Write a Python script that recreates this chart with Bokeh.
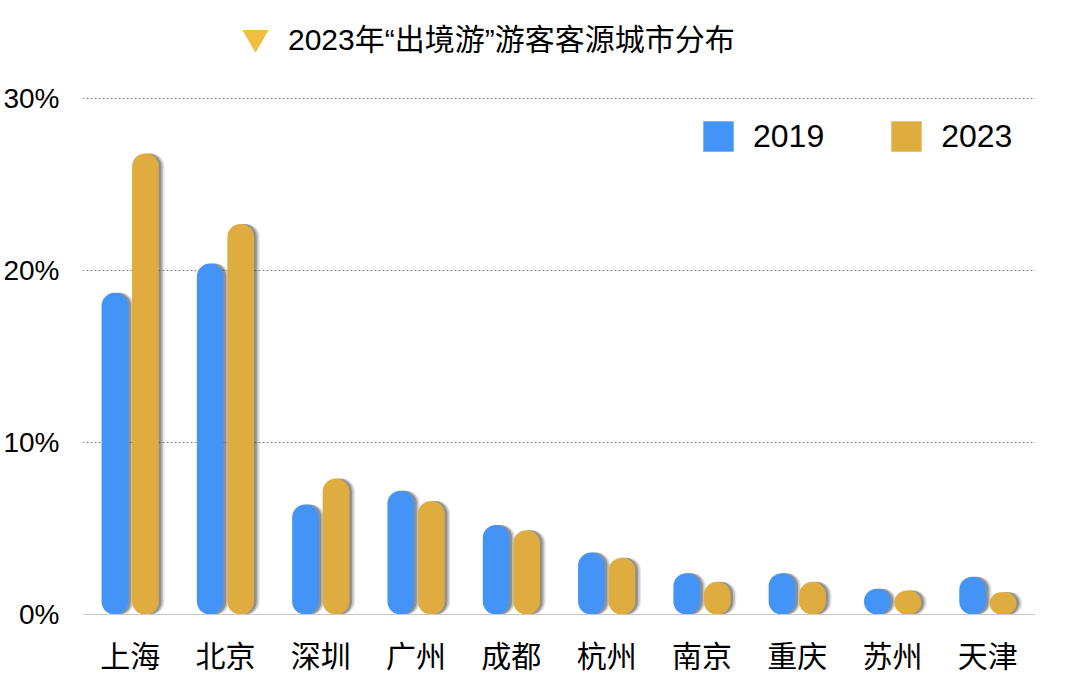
from bokeh.plotting import figure
from bokeh.models import ColumnDataSource, FactorRange, Range1d, FixedTicker, Legend, LegendItem
from bokeh.transform import dodge
from bokeh.embed import file_html
from bokeh.resources import INLINE

# ---- data ----
cities = ["上海", "北京", "深圳", "广州", "成都", "杭州", "南京", "重庆", "苏州", "天津"]
v2019 = [18.7, 20.4, 6.4, 7.2, 5.2, 3.6, 2.4, 2.4, 1.5, 2.2]
v2023 = [26.8, 22.7, 7.9, 6.6, 4.9, 3.3, 1.9, 1.9, 1.4, 1.3]
series_names = ["2019", "2023"]
y_ticks = [0, 10, 20, 30]
y_tick_labels = ["0%", "10%", "20%", "30%"]
title_text = "2023年“出境游”游客客源城市分布"

BLUE = "#4394F6"
GOLD = "#DFAD3F"
TRI = "#F0BE42"
FONT = "Liberation Sans, Noto Sans CJK SC"

src = ColumnDataSource(dict(city=cities, a=v2019, b=v2023))

p = figure(
    x_range=FactorRange(*cities),
    y_range=Range1d(-3.372, 35.698),
    width=1064, height=672,
    min_border_left=75, min_border_right=29,
    min_border_top=0, min_border_bottom=0,
    output_backend="svg", toolbar_location=None,
)
p.outline_line_color = None
p.background_fill_color = "white"
p.border_fill_color = "white"

W = 0.28
OFF = 0.16
R = 13

# shadows (soft, offset to the right)
for dx, alpha in [(0.06, 0.12), (0.045, 0.2), (0.028, 0.35)]:
    p.vbar(x=dodge("city", -OFF + dx, range=p.x_range), top="a", width=W, source=src,
           fill_color="#333333", fill_alpha=alpha, line_color=None, border_radius=R)
    p.vbar(x=dodge("city", OFF + dx, range=p.x_range), top="b", width=W, source=src,
           fill_color="#333333", fill_alpha=alpha, line_color=None, border_radius=R)

p.vbar(x=dodge("city", -OFF, range=p.x_range), top="a", width=W, source=src,
       fill_color=BLUE, line_color=None, border_radius=R)
p.vbar(x=dodge("city", OFF, range=p.x_range), top="b", width=W, source=src,
       fill_color=GOLD, line_color=None, border_radius=R)

# legend-only renderers (NaN values, never visible in the plot)
nan = float("nan")
dummy = ColumnDataSource(dict(x=[cities[0]], top=[nan]))
lg_a = p.vbar(x="x", top="top", width=W, source=dummy, fill_color=BLUE, line_color=None)
lg_b = p.vbar(x="x", top="top", width=W, source=dummy, fill_color=GOLD, line_color=None)
dummy2 = ColumnDataSource(dict(x=[cities[0]], y=[nan]))
lg_t = p.scatter(x="x", y="y", source=dummy2, marker="inverted_triangle", size=10,
                 fill_color=TRI, line_color=None)

leg = Legend(items=[LegendItem(label=series_names[0], renderers=[lg_a]),
                    LegendItem(label=series_names[1], renderers=[lg_b])],
             orientation="horizontal", location=(617, 517),
             glyph_width=38, glyph_height=38, label_standoff=16, spacing=63,
             padding=0, margin=0, border_line_color=None, background_fill_alpha=0,
             label_text_font_size="32px", label_text_font=FONT, label_text_color="black")
p.add_layout(leg)

tleg = Legend(items=[LegendItem(label=title_text, renderers=[lg_t])],
              location=(140, 602),
              glyph_width=66, glyph_height=66, label_standoff=0,
              padding=0, margin=0, border_line_color=None, background_fill_alpha=0,
              label_text_font_size="30px", label_text_font=FONT, label_text_color="black")
p.add_layout(tleg)

# axes
p.yaxis.ticker = FixedTicker(ticks=y_ticks)
p.yaxis.major_label_overrides = {t: l for t, l in zip(y_ticks, y_tick_labels)}
p.yaxis.axis_line_color = None
p.yaxis.major_tick_line_color = None
p.yaxis.minor_tick_line_color = None
p.yaxis.major_tick_out = 0
p.yaxis.major_tick_in = 0
p.yaxis.major_label_standoff = 23
p.yaxis.major_label_text_font_size = "28px"
p.yaxis.major_label_text_font = FONT
p.yaxis.major_label_text_color = "black"

p.xaxis.fixed_location = 0
p.xaxis.axis_line_color = "#C8C8C8"
p.xaxis.axis_line_width = 1
p.xaxis.major_tick_line_color = None
p.xaxis.minor_tick_line_color = None
p.xaxis.major_tick_out = 0
p.xaxis.major_tick_in = 0
p.xaxis.major_label_standoff = 25
p.xaxis.major_label_text_font_size = "30px"
p.xaxis.major_label_text_font = FONT
p.xaxis.major_label_text_color = "black"

p.xgrid.grid_line_color = None
p.ygrid.ticker = FixedTicker(ticks=[10, 20, 30])
p.ygrid.grid_line_color = "#8A8A8A"
p.ygrid.grid_line_dash = "2 2"
p.ygrid.grid_line_width = 1

open("out.html", "w").write(file_html(p, INLINE))
